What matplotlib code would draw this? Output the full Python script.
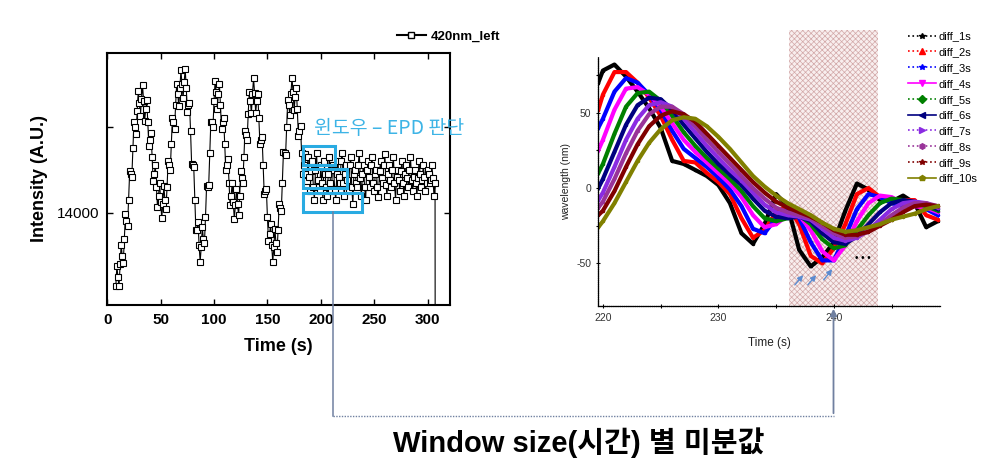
import numpy as np
import matplotlib
matplotlib.use('Agg')
import matplotlib.pyplot as plt
from matplotlib.patches import Rectangle, FancyArrowPatch
from matplotlib.lines import Line2D

plt.rcParams['font.family'] = ['Liberation Sans', 'DejaVu Sans']
plt.rcParams['hatch.linewidth'] = 0.5
plt.rcParams['axes.unicode_minus'] = False

# ---- left panel: 420nm_left intensity, one point per second ----
t_left = np.arange(8, 309)
intensity = [
    13150, 13380, 13250, 13145, 13400, 13630, 13500, 13420, 13700, 13980,
    13900, 13845, 14150, 14480, 14450, 14420, 14750, 15055, 15000, 14910,
    15180, 15410, 15280, 15120, 15320, 15490, 15300, 15070, 15200, 15305,
    15050, 14770, 14850, 14930, 14650, 14370, 14450, 14555, 14300, 14070,
    14200, 14345, 14130, 13935, 14100, 14305, 14150, 14045, 14300, 14605,
    14550, 14495, 14800, 15105, 15050, 14970, 15250, 15495, 15380, 15235,
    15450, 15655, 15500, 15330, 15520, 15665, 15450, 15170, 15250, 15280,
    14950, 14570, 14550, 14530, 14150, 13795, 13800, 13890, 13620, 13430,
    13600, 13830, 13700, 13645, 13950, 14305, 14300, 14320, 14700, 15055,
    15050, 14995, 15300, 15530, 15400, 15210, 15380, 15495, 15250, 14970,
    15050, 15105, 14800, 14495, 14550, 14630, 14350, 14095, 14200, 14340,
    14120, 13925, 14090, 14275, 14100, 13970, 14200, 14480, 14400, 14345,
    14650, 14955, 14900, 14845, 15150, 15405, 15300, 15160, 15380, 15565,
    15390, 15165, 15300, 15380, 15100, 14795, 14850, 14880, 14550, 14220,
    14250, 14280, 13950, 13670, 13750, 13865, 13620, 13430, 13600, 13805,
    13650, 13545, 13800, 14105, 14050, 14020, 14350, 14705, 14700, 14670,
    15000, 15305, 15250, 15135, 15380, 15570, 15400, 15195, 15350, 15455,
    15200, 14895, 14950, 15005, 14700, 14445, 14550, 14680, 14450, 14370,
    14650, 14420, 14250, 14480, 14600, 14300, 14150, 14500, 14700, 14380,
    14300, 14250, 14550, 14350, 14150, 14600, 14450, 14300, 14200, 14450,
    14650, 14350, 14250, 14550, 14500, 14280, 14150, 14450, 14600, 14420,
    14350, 14600, 14700, 14350, 14200, 14450, 14550, 14380, 14250, 14550,
    14650, 14300, 14100, 14450, 14500, 14350, 14300, 14550, 14700, 14400,
    14200, 14450, 14550, 14300, 14150, 14500, 14600, 14420, 14300, 14550,
    14650, 14350, 14250, 14450, 14500, 14300, 14180, 14480, 14600, 14400,
    14350, 14550, 14680, 14320, 14200, 14450, 14550, 14380, 14300, 14500,
    14650, 14350, 14150, 14420, 14500, 14380, 14250, 14480, 14600, 14350,
    14200, 14450, 14550, 14400, 14300, 14500, 14650, 14380, 14250, 14420,
    14500, 14350, 14200, 14400, 14600, 14450, 14300, 14380, 14550, 14420,
    14250, 14350, 14500, 14450, 14350, 14380, 14550, 14400, 14200, 14350,
    0,
]

# ---- right panel: derivative for each window size ----
t_right = [219.6] + list(range(220, 250))
labels = ['diff_1s', 'diff_2s', 'diff_3s', 'diff_4s', 'diff_5s',
          'diff_6s', 'diff_7s', 'diff_8s', 'diff_9s', 'diff_10s']
colors = ['#000000', '#ff0000', '#0000ff', '#ff00ff', '#008000',
          '#000080', '#8a2be2', '#993399', '#800000', '#808000']
markers = ['*', '^', '*', 'v', 'D', '<', '>', 'h', '*', 'p']
styles = [':', ':', ':', '-', ':', '-', ':', ':', ':', '-']

diff_1s = [70, 78, 82, 74, 64, 53, 40, 18, 16, 12, 8, 2, -10, -30, -37, -24,
           -4, -12, -41, -52, -46, -36, -15, 3, -1, -8, -9, -5, -10, -26, -22]
diff_2s = [52, 62, 77, 77, 70, 60, 48, 32, 18, 17, 10, 4, -4, -20, -33, -28,
           -16, -12, -24, -45, -50, -40, -24, -4, 0, -6, -10, -8, -8, -18, -21]
diff_3s = [40, 46, 64, 73, 70, 62, 52, 38, 26, 20, 14, 7, -1, -12, -27, -30,
           -20, -14, -20, -36, -48, -48, -32, -14, -4, -6, -10, -12, -10, -14, -18]
diff_4s = [25, 32, 52, 66, 67, 62, 54, 43, 32, 24, 17, 10, 3, -6, -18, -26,
           -24, -18, -18, -28, -42, -48, -38, -22, -10, -5, -6, -10, -12, -13, -16]
diff_5s = [10, 16, 36, 54, 63, 64, 58, 48, 37, 28, 20, 13, 6, -2, -12, -20,
           -22, -20, -18, -24, -34, -40, -38, -28, -18, -10, -7, -8, -10, -12, -15]
diff_6s = [0, 6, 24, 42, 55, 60, 59, 52, 42, 33, 24, 16, 9, 2, -7, -15,
           -19, -20, -19, -22, -30, -36, -37, -32, -24, -16, -10, -8, -9, -11, -14]
diff_7s = [-8, -3, 14, 32, 46, 55, 57, 54, 46, 37, 28, 20, 12, 5, -3, -11,
           -16, -18, -19, -21, -27, -33, -35, -33, -28, -21, -14, -10, -9, -10, -13]
diff_8s = [-13, -9, 6, 23, 38, 49, 54, 54, 49, 41, 32, 24, 16, 8, 0, -7,
           -13, -16, -18, -20, -25, -30, -33, -32, -29, -24, -18, -13, -10, -10, -12]
diff_9s = [-18, -15, -2, 14, 29, 41, 48, 51, 49, 44, 36, 28, 20, 12, 4, -3,
           -9, -13, -16, -19, -23, -28, -31, -31, -29, -25, -21, -16, -12, -11, -12]
diff_10s = [-26, -22, -10, 4, 18, 30, 39, 45, 47, 46, 41, 34, 26, 17, 8, 1,
            -5, -10, -14, -18, -23, -27, -29, -28, -26, -24, -21, -19, -17, -14, -12]
series = [diff_1s, diff_2s, diff_3s, diff_4s, diff_5s,
          diff_6s, diff_7s, diff_8s, diff_9s, diff_10s]

fig = plt.figure(figsize=(9.96, 4.76), dpi=100)

# left plot
ax1 = fig.add_axes([0.1077, 0.3592, 0.3441, 0.5295])
ax1.plot(t_left, intensity, '-', color='black', lw=0.8, marker='s', ms=4.3,
         mfc='white', mec='black', mew=0.8, label='420nm_left')
ax1.set_xlim(0, 321)
ax1.set_ylim(12927, 15857)
ax1.set_xticks([0, 50, 100, 150, 200, 250, 300])
ax1.set_yticks([14000, 15000])
ax1.set_yticklabels(['14000', ''])
ax1.tick_params(direction='in', top=True, right=True, length=4, width=1,
                labelsize=11, pad=6)
for lab in ax1.get_xticklabels():
    lab.set_fontweight('bold')
for sp in ax1.spines.values():
    sp.set_linewidth(1.5)
ax1.set_xlabel('Time (s)', fontsize=13, fontweight='bold', labelpad=8)
ax1.set_ylabel('Intensity (A.U.)', fontsize=13, fontweight='bold', labelpad=6)
fig.legend(handles=[Line2D([0], [0], color='black', lw=1.5, marker='s', ms=5,
                           mfc='white', mec='black')],
           labels=['420nm_left'], loc='center left',
           bbox_to_anchor=(390 / 996, 1 - 37 / 476), frameon=False,
           handlelength=2.2, handletextpad=0.4, borderpad=0,
           prop={'weight': 'bold', 'size': 9.5})

# right plot
ax2 = fig.add_axes([0.6007, 0.3571, 0.3431, 0.5238])
ax2.add_patch(Rectangle((236.1, -78.3), 7.7, 183.2, facecolor='#f8eeee',
                        edgecolor='#d2a8a8', hatch='xxxxxx', lw=0,
                        clip_on=False, zorder=0))
for vals, c, lab in zip(series, colors, labels):
    ax2.plot(t_right, vals, '-', color=c, lw=3, marker='.', ms=3, label=lab,
             zorder=2)
ax2.set_xlim(219.6, 249.2)
ax2.set_ylim(-78.3, 87.2)
ax2.set_xticks([220, 230, 240])
ax2.set_xticks([225, 235, 245], minor=True)
ax2.set_yticks([-50, 0, 50])
ax2.set_yticks([-25, 25, 75], minor=True)
ax2.spines['top'].set_visible(False)
ax2.spines['right'].set_visible(False)
for side in ['left', 'bottom']:
    ax2.spines[side].set_linewidth(0.9)
    ax2.spines[side].set_linestyle((0, (1, 0.5)))
ax2.tick_params(which='both', direction='inout', length=3, width=0.8,
                labelsize=7.5, labelcolor='#333333')
ax2.set_xlabel('Time (s)', fontsize=8.5, color='#222222', labelpad=10)
ax2.set_ylabel('wavelength (nm)', fontsize=7.5, color='#222222', labelpad=4)

handles = [Line2D([0], [0], color=c, ls=s, lw=1.2, marker=m, ms=4)
           for c, s, m in zip(colors, styles, markers)]
fig.legend(handles=handles, labels=labels, loc='upper left',
           bbox_to_anchor=(902 / 996, 1 - 26 / 476), frameon=False,
           handlelength=2.6, handletextpad=0.2, labelspacing=0.52,
           borderpad=0, prop={'size': 8})

# annotation overlay in pixel coordinates
ov = fig.add_axes([0, 0, 1, 1], zorder=10)
ov.set_xlim(0, 996)
ov.set_ylim(476, 0)
ov.axis('off')
ov.patch.set_alpha(0)

box_color = '#29abe2'
for (x0, y0, x1, y1) in [(303, 146, 335, 165), (303, 169, 347, 188),
                         (303, 193, 362, 212)]:
    ov.add_patch(Rectangle((x0, y0), x1 - x0, y1 - y0, fill=False,
                           edgecolor=box_color, lw=2.2))
ov.text(314, 129, '윈도우 – EPD 판단', color='#3db4e6', fontsize=14,
        family=['Noto Sans CJK KR', 'DejaVu Sans'], va='center', ha='left')

link = '#7080a0'
ov.plot([332.5, 332.5], [212, 416], color=link, lw=1.1)
ov.plot([332.5, 833.5], [416, 416], color=link, lw=1.0, ls=(0, (1, 1)))
ov.add_patch(FancyArrowPatch((833.5, 416), (833.5, 306), arrowstyle='-|>',
                             mutation_scale=10, color=link, lw=1.3))

arrow_c = '#5b8bd0'
for (x0, y0, x1, y1) in [(793, 287, 805, 273), (806, 287, 818, 273),
                         (822, 282, 834, 267)]:
    ov.add_patch(FancyArrowPatch((x0, y0), (x1, y1), arrowstyle='-|>',
                                 mutation_scale=8, color=arrow_c, lw=1.0))
ov.text(863, 258, '• • •', fontsize=7, ha='center', va='center', color='black')

ov.text(579, 443, 'Window size(시간) 별 미분값', fontsize=21, fontweight='bold',
        family=['Liberation Sans', 'Noto Sans CJK KR'], ha='center', va='center')

fig.savefig('out.png', dpi=100)
